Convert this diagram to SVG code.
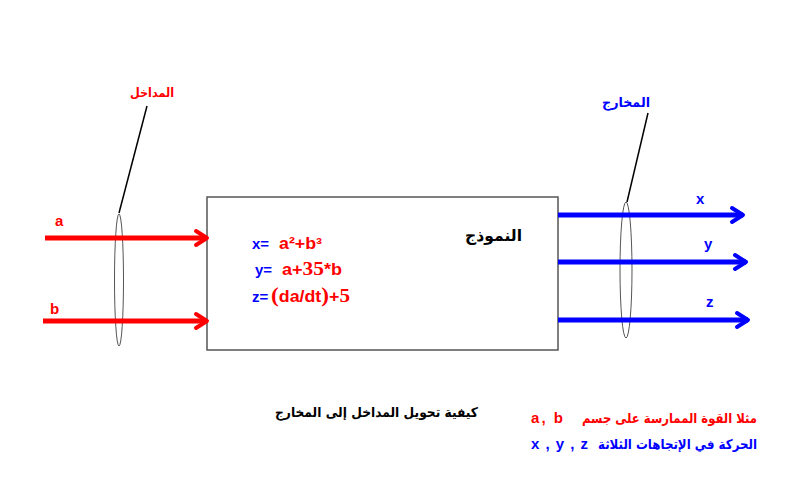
<svg xmlns="http://www.w3.org/2000/svg" width="800" height="501" viewBox="0 0 800 501">
<defs>
<style>
.lat{font-family:"Liberation Sans",Arial,sans-serif;font-weight:bold}
.ser{font-family:"Liberation Serif","Times New Roman",serif;font-weight:bold}
.ar{font-family:"DejaVu Sans","Noto Sans",sans-serif;font-weight:bold}
.red{fill:#ff0000}
.blue{fill:#0000ff}
.blk{fill:#000000}
.in{stroke:#ff0000;stroke-width:5;fill:none}
.out{stroke:#0000ff;stroke-width:5;fill:none}
.lens{fill:none;stroke:#555;stroke-width:1}
.lead{stroke:#000;stroke-width:1.5;fill:none}
</style>
<marker id="hr" markerUnits="userSpaceOnUse" markerWidth="20" markerHeight="20" refX="14" refY="10" orient="auto" viewBox="0 0 20 20">
<path d="M3,3 L14,10 L3,17" fill="none" stroke="#ff0000" stroke-width="4" stroke-linecap="round" stroke-linejoin="round"/>
</marker>
<marker id="hb" markerUnits="userSpaceOnUse" markerWidth="20" markerHeight="20" refX="14" refY="10" orient="auto" viewBox="0 0 20 20">
<path d="M3,3 L14,10 L3,17" fill="none" stroke="#0000ff" stroke-width="4" stroke-linecap="round" stroke-linejoin="round"/>
</marker>
</defs>
<rect width="800" height="501" fill="#ffffff"/>

<g id="model">
<rect x="207" y="197" width="351" height="153" fill="#ffffff" stroke="#555" stroke-width="1.5"/>
<text class="ar blk" x="522" y="241" font-size="16" text-anchor="end" textLength="57" lengthAdjust="spacingAndGlyphs">النموذج</text>
<text class="lat blue" x="252" y="249" font-size="15">x=</text>
<text class="lat red" x="279" y="249" font-size="16" textLength="43" lengthAdjust="spacingAndGlyphs">a²+b³</text>
<text class="lat blue" x="255" y="275" font-size="15">y=</text>
<text class="lat red" x="282" y="275" font-size="16" textLength="60" lengthAdjust="spacingAndGlyphs"><tspan>a+</tspan><tspan class="ser" font-size="19">35</tspan><tspan>*b</tspan></text>
<text class="lat blue" x="252" y="302" font-size="15">z=</text>
<text class="lat red" x="271" y="302" font-size="16" textLength="79" lengthAdjust="spacingAndGlyphs"><tspan class="ser" font-size="21" font-weight="normal">(</tspan><tspan>da/dt</tspan><tspan class="ser" font-size="21" font-weight="normal">)</tspan><tspan>+</tspan><tspan class="ser" font-size="19">5</tspan></text>
</g>

<g id="inputs">
<ellipse class="lens" cx="119" cy="280" rx="4.5" ry="66"/>
<path class="lead" d="M119,213 L147,106"/>
<text class="ar red" x="174" y="97" font-size="12.5" text-anchor="end" textLength="44" lengthAdjust="spacingAndGlyphs">المداخل</text>
<text class="lat red" x="55" y="226" font-size="15">a</text>
<text class="lat red" x="50" y="314" font-size="15">b</text>
</g>

<g id="outputs">
<ellipse class="lens" cx="626" cy="270" rx="6" ry="68"/>
<path class="lead" d="M627,202 L648,113"/>
<text class="ar blue" x="650" y="107" font-size="13.5" text-anchor="end" textLength="48" lengthAdjust="spacingAndGlyphs">المخارج</text>
<text class="lat blue" x="696" y="204" font-size="15">x</text>
<text class="lat blue" x="704" y="249" font-size="15">y</text>
<text class="lat blue" x="706" y="307" font-size="15">z</text>
</g>

<g id="connectors">
<line class="in" x1="45" y1="238" x2="207" y2="238" marker-end="url(#hr)"/>
<line class="in" x1="43" y1="321" x2="207" y2="321" marker-end="url(#hr)"/>
<line class="out" x1="558" y1="215" x2="743" y2="215" marker-end="url(#hb)"/>
<line class="out" x1="558" y1="262" x2="746" y2="262" marker-end="url(#hb)"/>
<line class="out" x1="558" y1="320" x2="748" y2="320" marker-end="url(#hb)"/>
</g>

<g id="legend">
<text class="ar blk" x="478" y="417" font-size="13.5" text-anchor="end" textLength="203" lengthAdjust="spacingAndGlyphs">كيفية تحويل المداخل إلى المخارج</text>
<text class="ar red" x="757" y="423" font-size="13.5" text-anchor="end" textLength="175" lengthAdjust="spacingAndGlyphs">مثلا القوة الممارسة على جسم</text>
<text class="lat red" x="531" y="423" font-size="15" textLength="32" lengthAdjust="spacing">a, b</text>
<text class="ar blue" x="757" y="449" font-size="13.5" text-anchor="end" textLength="159" lengthAdjust="spacingAndGlyphs">الحركة في الإتجاهات الثلاثة</text>
<text class="lat blue" x="531" y="449" font-size="15" textLength="57" lengthAdjust="spacing">x , y , z</text>
</g>
</svg>
